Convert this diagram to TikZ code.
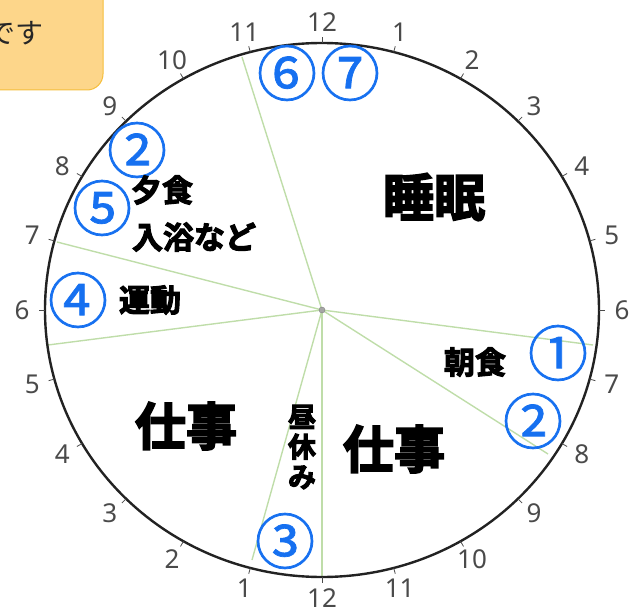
\documentclass[tikz,border=0pt]{standalone}
\usepackage{fontspec}
\usetikzlibrary{calc}
\setmainfont{Noto Sans}
\newfontfamily\jp{Noto Sans CJK JP}
\newfontfamily\jpc{Noto Sans CJK JP}[FakeBold=1.2]
\newfontfamily\jpb{Noto Sans CJK JP Bold}[FakeBold=3.5]
\definecolor{boxfill}{HTML}{FDD68A}
\definecolor{boxline}{HTML}{F5BE3C}
\definecolor{seg}{HTML}{BFDDA9}
\definecolor{num}{HTML}{1670F0}
\definecolor{hour}{HTML}{4A4A4A}
\definecolor{rim}{HTML}{222222}
\tikzset{
  seg/.style={draw=seg, line width=1.4pt},
  hr/.style={text=hour, font=\fontsize{26}{26}\selectfont, inner sep=0pt},
  circnum/.style={text=num, font=\jpc\fontsize{60}{60}\selectfont, inner sep=0pt},
  big/.style={font=\jpb\fontsize{51}{51}\selectfont, inner sep=0pt},
  mid/.style={font=\jpb\fontsize{31}{31}\selectfont, inner sep=0pt},
}
\begin{document}
\begin{tikzpicture}[x=1pt,y=-1pt]
\useasboundingbox (0,0) rectangle (630,610);
% callout box
\draw[fill=boxfill, draw=boxline, line width=1pt, rounded corners=16pt] (-30,-30) rectangle (103,90);
\node[font=\jp\fontsize{28}{28}\selectfont, text=black!85, anchor=east, inner sep=0pt] (callout) at (44,33) {です};
% centre
\coordinate (c) at (322,310);
% segment lines
\coordinate (pA) at (242,57);
\coordinate (pB) at (57,242);
\coordinate (pC) at (48,345);
\coordinate (pD) at (252,560);
\coordinate (pE) at (322,578);
\coordinate (pF) at (548,454);
\coordinate (pG) at (593,345);
\foreach \p in {pA,pB,pC,pD,pE,pF,pG} \draw[seg] (c) -- (\p);
% rim
\draw[draw=rim, line width=2.4pt] (c) ellipse [x radius=277, y radius=267];
% ticks and hour labels
\foreach \i [evaluate=\i as \a using 15*\i] in {0,...,23} {
  \draw[hour, line width=0.8pt] ($(c)+({277*sin(\a)},{-267*cos(\a)})$) -- ($(c)+({283*sin(\a)},{-273*cos(\a)})$);
}
\foreach \i/\t in {0/12,1/1,2/2,3/3,4/4,5/5,6/6,7/7,8/8,9/9,10/10,11/11,12/12,13/1,14/2,15/3,16/4,17/5,18/6,19/7,20/8,21/9,22/10,23/11} {
  \node[hr] (h\i) at ($(c)+({300*sin(15*\i)},{-288*cos(15*\i)})$) {\t};
}
% centre mark
\draw[fill=gray!70, draw=gray] (c) circle (3pt);
% circled numbers
\node[circnum] (n1) at (558,353) {①};
\node[circnum] (n2r) at (533,421) {②};
\node[circnum] (n3) at (285,541) {③};
\node[circnum] (n4) at (78,300) {④};
\node[circnum] (n5) at (102,208) {⑤};
\node[circnum] (n2l) at (137,150) {②};
\node[circnum] (n6) at (287,73) {⑥};
\node[circnum] (n7) at (350,73) {⑦};
% labels
\node[big] (sleep) at (434,197) {睡眠};
\node[big] (work1) at (394,449) {仕事};
\node[big] (work2) at (186,426) {仕事};
\node[mid] (breakfast) at (475,362) {朝食};
\node[mid] (dinner) at (162,190) {夕食};
\node[mid] (bath) at (194,237) {入浴など};
\node[mid] (exercise) at (150,300) {運動};
\node[font=\jpb\fontsize{28}{30}\selectfont, inner sep=0pt, align=center] (lunch) at (302,447) {昼\\休\\み};
\end{tikzpicture}
\end{document}
